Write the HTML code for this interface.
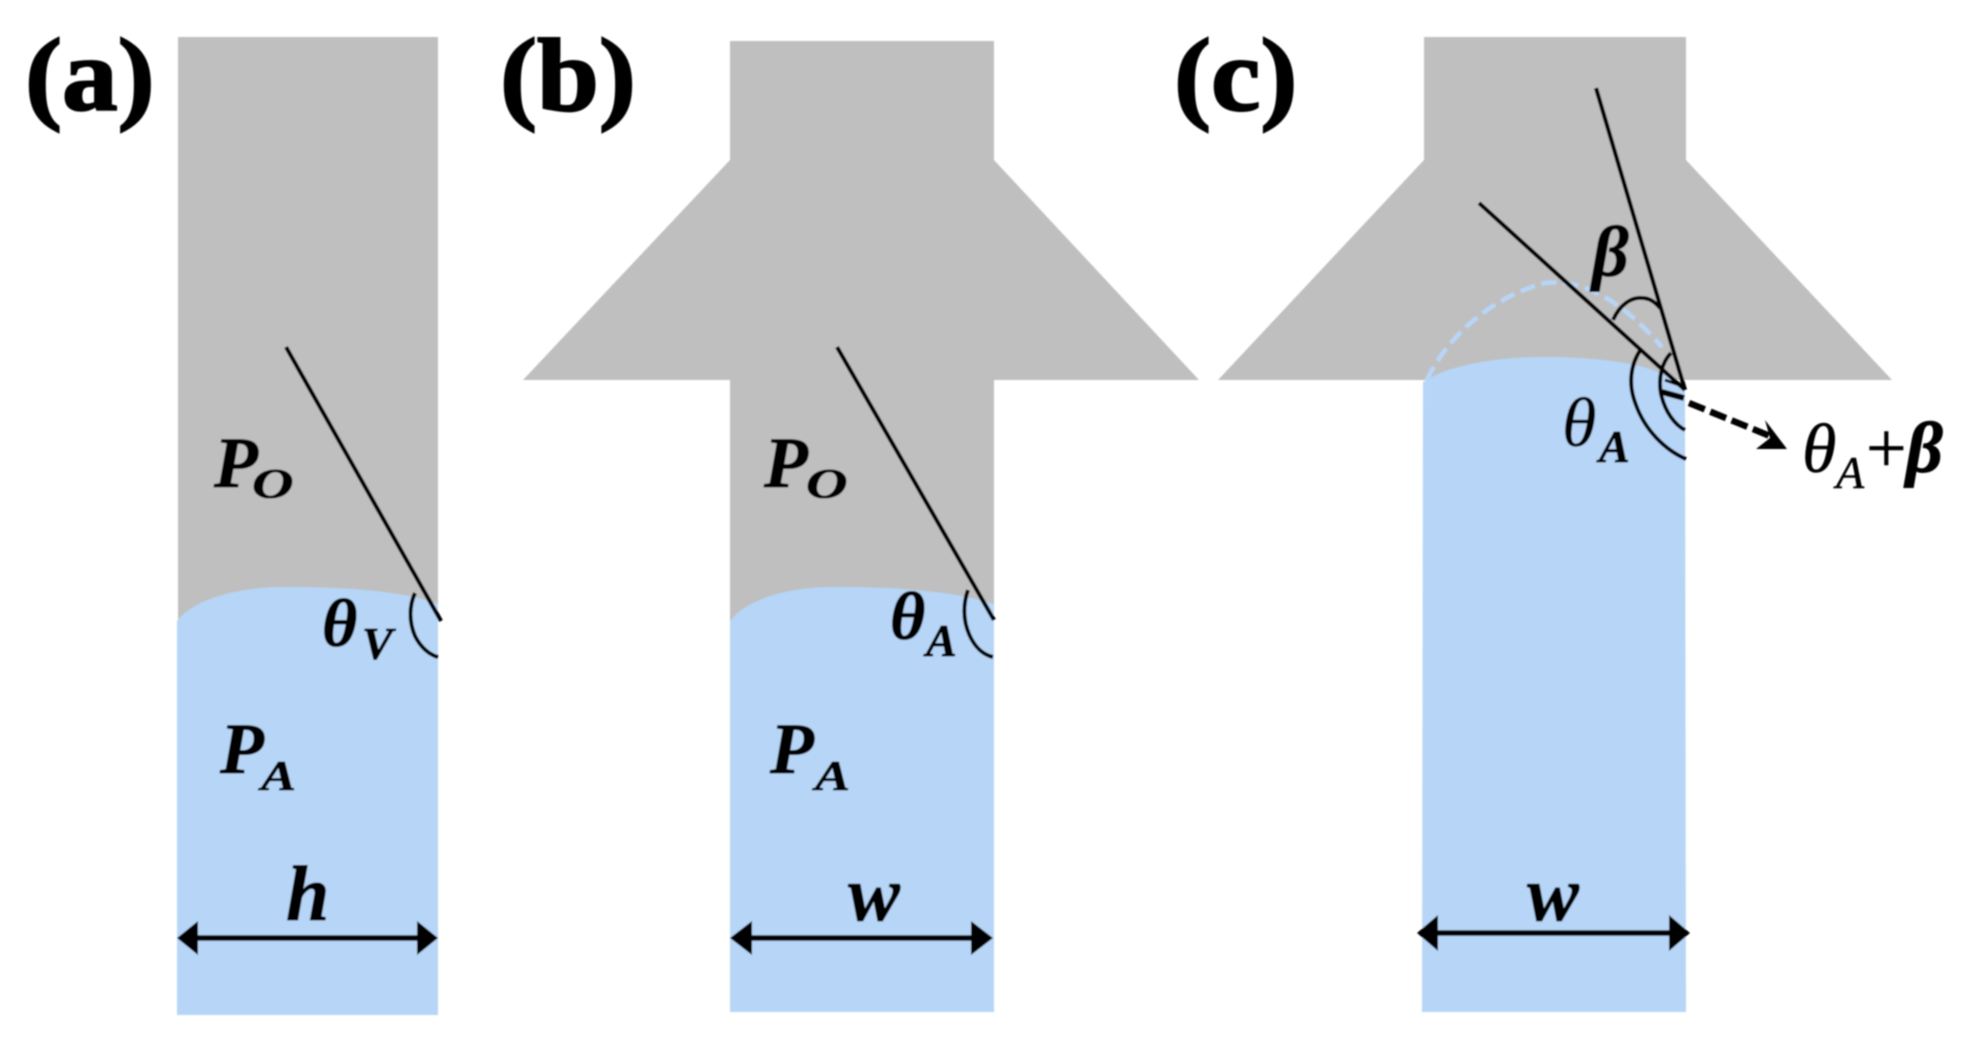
<!DOCTYPE html>
<html>
<head>
<meta charset="utf-8">
<style>
html,body{margin:0;padding:0;background:#fff;width:1971px;height:1046px;overflow:hidden}
svg{display:block;position:absolute;left:0;top:0}
text{font-family:"Liberation Serif","DejaVu Serif",serif;fill:#000}
.bi{font-weight:bold;font-style:italic;stroke:#000;stroke-width:.9px}
.i{font-style:italic;stroke:#000;stroke-width:.5px}
.lab{font-weight:bold;font-size:104px;stroke:#000;stroke-width:2px}
</style>
</head>
<body>
<svg width="1971" height="1046" viewBox="0 0 1971 1046" xmlns="http://www.w3.org/2000/svg">
<defs><filter id="b" x="-5%" y="-5%" width="110%" height="110%"><feGaussianBlur stdDeviation="0.8"/></filter></defs>
<g filter="url(#b)">
<!-- panel a -->
<rect x="178" y="37" width="260" height="590" fill="#bfbfbf"/>
<path d="M177 621 C195 598 240 587 285 587 C340 587 400 590 438 604 L438 1015 L177 1015 Z" fill="#b6d5f7"/>
<path d="M286 347 L441 621" stroke="#000" stroke-width="4.2" fill="none"/>
<path d="M415 593 C409 606 409 622 415 636 C421 648 430 655 438 657" stroke="#000" stroke-width="4" fill="none"/>
<path d="M190 938 L425 938" stroke="#000" stroke-width="5.5"/>
<path d="M177 938 L198 921 L198 955 Z M438 938 L417 921 L417 955 Z" fill="#000"/>

<!-- panel b -->
<path d="M730 41 H994 V160 L1199 380 H994 V625 H730 V380 H523 L730 160 Z" fill="#bfbfbf"/>
<path d="M730 621 C748 598 790 587 835 587 C890 587 950 590 994 604 L994 1012 L730 1012 Z" fill="#b6d5f7"/>
<path d="M837 347 L994 620" stroke="#000" stroke-width="4.2" fill="none"/>
<path d="M968 590 C963 604 963 620 969 634 C975 648 984 655 993 657" stroke="#000" stroke-width="4" fill="none"/>
<path d="M745 938 L980 938" stroke="#000" stroke-width="5.5"/>
<path d="M730 938 L752 921 L752 955 Z M993 938 L971 921 L971 955 Z" fill="#000"/>

<!-- panel c -->
<path d="M1424 37 H1686 V160 L1892 380 H1218 L1424 160 Z" fill="#bfbfbf"/>
<path d="M1423 382 C1450 364 1500 357 1545 357 C1590 357 1640 362 1662 374 L1685 388 L1686 1012 L1422 1012 Z" fill="#b6d5f7"/>
<path d="M1427 380 C1440 350 1480 300 1545 283 C1590 278 1630 310 1662 347" stroke="#b7d5f7" stroke-width="4.5" stroke-dasharray="15 7" fill="none"/>
<path d="M1479 203 L1685 390" stroke="#000" stroke-width="4.2" fill="none"/>
<path d="M1596 88 L1685 390" stroke="#000" stroke-width="4.2" fill="none"/>
<path d="M1613 320 C1620 304 1632 297 1642 298 C1650 298 1656 303 1660 308" stroke="#000" stroke-width="4" fill="none"/>
<path d="M1671 353 C1662 362 1658 378 1661 394 C1665 412 1675 425 1685 430" stroke="#000" stroke-width="4" fill="none"/>
<path d="M1641 349 C1630 365 1628 385 1636 405 C1645 430 1665 450 1686 459" stroke="#000" stroke-width="4" fill="none"/>
<path d="M1662 392 L1684 398" stroke="#000" stroke-width="6"/>
<path d="M1665 380 L1682 386" stroke="#000" stroke-width="3"/>
<path d="M1689 403 L1770 436" stroke="#000" stroke-width="6.5" stroke-dasharray="17 6" fill="none"/>
<path d="M1765 420 L1787 449 L1756 449 L1770 438 Z" fill="#000"/>
<path d="M1430 933 L1680 933" stroke="#000" stroke-width="5.5"/>
<path d="M1417 933 L1438 915 L1438 951 Z M1690 933 L1669 915 L1669 951 Z" fill="#000"/>

<!-- labels -->
<text class="lab" transform="translate(25 110) scale(1.07 1)">(a)</text>
<text class="lab" transform="translate(500 110) scale(1.07 1)">(b)</text>
<text class="lab" transform="translate(1174 110) scale(1.07 1)">(c)</text>

<text class="bi" font-size="72" x="214" y="487">P</text>
<text class="bi" font-size="50" transform="translate(252 498) scale(1.15 .85)">O</text>
<text class="bi" font-size="72" x="220" y="773">P</text>
<text class="bi" font-size="50" transform="translate(261 790) scale(1.05 .85)">A</text>
<text class="bi" font-size="68" x="322" y="646">θ</text>
<text class="bi" font-size="46" x="362" y="659">V</text>
<text class="bi" font-size="78" x="286" y="920">h</text>

<text class="bi" font-size="72" x="764" y="487">P</text>
<text class="bi" font-size="50" transform="translate(806 498) scale(1.15 .85)">O</text>
<text class="bi" font-size="72" x="770" y="773">P</text>
<text class="bi" font-size="50" transform="translate(815 790) scale(1.05 .85)">A</text>
<text class="bi" font-size="68" x="890" y="639">θ</text>
<text class="bi" font-size="46" x="926" y="656">A</text>
<text class="bi" font-size="78" x="848" y="920">w</text>

<text class="i" font-size="70" x="1562" y="446">θ</text>
<text class="bi" font-size="46" x="1599" y="462">A</text>
<text class="bi" font-size="78" x="1527" y="920">w</text>
<text class="bi" font-size="72" x="1592" y="276">β</text>
<text class="i" font-size="70" x="1802" y="472">θ</text>
<text class="i" font-size="46" x="1836" y="488">A</text>
<text font-size="72" x="1866" y="472" stroke="#000" stroke-width=".5">+</text>
<text class="bi" font-size="72" x="1906" y="472">β</text>
</g>
</svg>
</body>
</html>
